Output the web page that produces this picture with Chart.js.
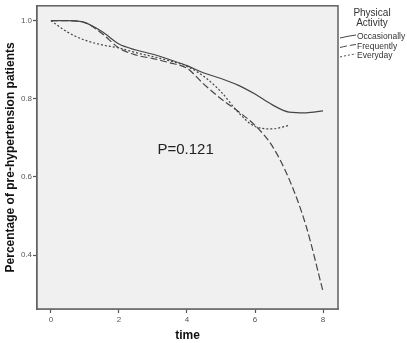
<!DOCTYPE html>
<html>
<head>
<meta charset="utf-8">
<script src="https://cdn.jsdelivr.net/npm/chart.js@4/dist/chart.umd.min.js"></script>
<style>
  body { margin: 0; background: #fff; }
  canvas { display: block; }
</style>
</head>
<body>
<canvas id="chart" width="407" height="343"></canvas>
<script>
// values
const time = [0, 0.5, 1, 1.5, 2, 2.5, 3, 3.5, 4, 4.5, 5, 5.5, 6, 6.5, 7, 7.5, 8];
const occasionally = [1.0, 1.0, 0.995, 0.972, 0.94, 0.925, 0.914, 0.9, 0.885, 0.866, 0.852, 0.835, 0.812, 0.785, 0.766, 0.764, 0.769];
const frequently = [1.0, 1.0, 0.995, 0.967, 0.93, 0.912, 0.903, 0.892, 0.878, 0.837, 0.8, 0.768, 0.732, 0.68, 0.595, 0.475, 0.307];
const everydayTime = [0, 0.5, 1, 1.5, 2, 2.5, 3, 3.5, 4, 4.5, 5, 5.5, 6, 6.5, 7];
const everyday = [1.0, 0.97, 0.95, 0.938, 0.93, 0.918, 0.908, 0.897, 0.883, 0.857, 0.818, 0.766, 0.729, 0.723, 0.732];
const seriesNames = ["Occasionally", "Frequently", "Everyday"];
const xTicks = [0, 2, 4, 6, 8];
const yTicks = [0.4, 0.6, 0.8, 1.0];
const pValue = "P=0.121";

const lineColor = "#454545";
const dashes = [[], [7, 3], [2, 2]];

function pts(xs, ys) {
    return xs.map((x, i) => ({x: x, y: ys[i]}));
}

// grey plot background + frame
const frame = {
    id: "frame",
    beforeDatasetsDraw(chart) {
        const {ctx, chartArea: a} = chart;
        ctx.save();
        ctx.fillStyle = "#f0f0f0";
        ctx.fillRect(a.left, a.top, a.right - a.left, a.bottom - a.top);
        ctx.restore();
    },
    afterDraw(chart) {
        const {ctx, chartArea: a, scales} = chart;
        ctx.save();
        ctx.strokeStyle = "#606060";
        ctx.lineWidth = 1.5;
        ctx.strokeRect(a.left, a.top, a.right - a.left, a.bottom - a.top);

        // P value annotation
        ctx.fillStyle = "#222";
        ctx.font = "15px 'Liberation Sans', Arial, sans-serif";
        ctx.textAlign = "center";
        ctx.textBaseline = "middle";
        ctx.fillText(pValue, scales.x.getPixelForValue(3.96), scales.y.getPixelForValue(0.67));

        // legend
        ctx.fillStyle = "#333";
        ctx.font = "10px 'Liberation Sans', Arial, sans-serif";
        ctx.fillText("Physical", 372, 13);
        ctx.fillText("Activity", 372, 23);
        ctx.font = "8.5px 'Liberation Sans', Arial, sans-serif";
        ctx.textAlign = "left";
        const rows = [37, 46.5, 56];
        seriesNames.forEach((name, i) => {
            const y = rows[i];
            ctx.strokeStyle = lineColor;
            ctx.lineWidth = 1;
            ctx.setLineDash(dashes[i]);
            ctx.beginPath();
            ctx.moveTo(340, y + 1);
            ctx.quadraticCurveTo(348, y - 1, 356, y - 2);
            ctx.stroke();
            ctx.setLineDash([]);
            ctx.fillText(name, 357, y);
        });
        ctx.restore();
    }
};

new Chart(document.getElementById("chart"), {
    type: "line",
    data: {
        datasets: [
            {label: seriesNames[0], data: pts(time, occasionally), borderDash: dashes[0]},
            {label: seriesNames[1], data: pts(time, frequently), borderDash: dashes[1]},
            {label: seriesNames[2], data: pts(everydayTime, everyday), borderDash: dashes[2]}
        ].map(d => Object.assign(d, {
            borderColor: lineColor,
            borderWidth: 1.2,
            pointRadius: 0,
            cubicInterpolationMode: "monotone",
            fill: false
        }))
    },
    options: {
        responsive: false,
        animation: false,
        devicePixelRatio: 1,
        layout: { padding: { left: 0, right: 69, top: 4, bottom: 0 } },
        plugins: { legend: { display: false }, tooltip: { enabled: false } },
        scales: {
            x: {
                type: "linear",
                min: -0.41,
                max: 8.44,
                afterBuildTicks: s => { s.ticks = xTicks.map(v => ({value: v})); },
                afterFit: s => { s.height = 34; },
                grid: { drawOnChartArea: false, tickLength: 4, tickColor: "#555", tickWidth: 1.2 },
                border: { color: "#606060", width: 1.5 },
                ticks: { color: "#555", font: { size: 8, family: "'Liberation Sans', Arial" }, padding: 2, maxRotation: 0 },
                title: {
                    display: true, text: "time", color: "#111",
                    font: { size: 12, weight: "bold", family: "'Liberation Sans', Arial" },
                    padding: { top: 0, bottom: 0 }
                }
            },
            y: {
                min: 0.262,
                max: 1.038,
                afterBuildTicks: s => { s.ticks = yTicks.map(v => ({value: v})); },
                afterFit: s => { s.width = 37; },
                grid: { drawOnChartArea: false, tickLength: 4, tickColor: "#555", tickWidth: 1.2 },
                border: { color: "#606060", width: 1.5 },
                ticks: {
                    color: "#555", font: { size: 8, family: "'Liberation Sans', Arial" }, padding: 1,
                    callback: v => v.toFixed(1)
                },
                title: {
                    display: true, text: "Percentage of pre-hypertension patients", color: "#111",
                    font: { size: 12, weight: "bold", family: "'Liberation Sans', Arial" },
                    padding: { top: 3, bottom: 0 }
                }
            }
        }
    },
    plugins: [frame]
});
</script>
</body>
</html>
